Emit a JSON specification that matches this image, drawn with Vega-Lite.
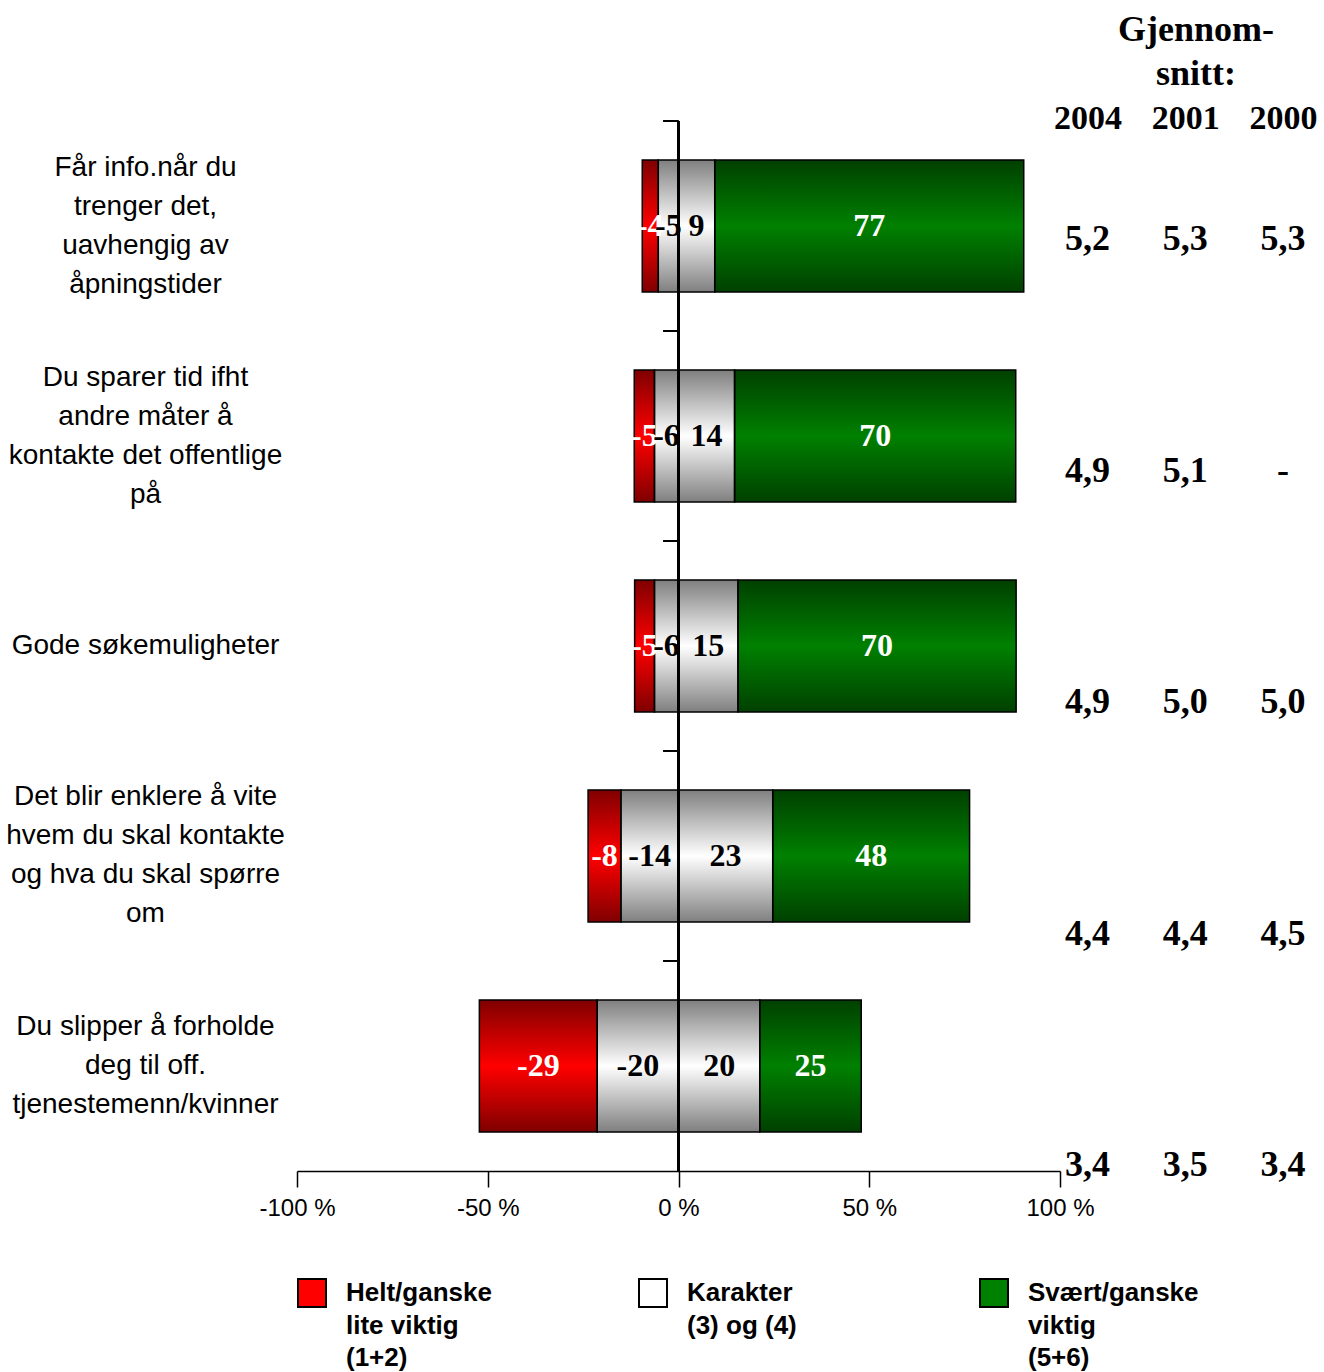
{
  "$schema": "https://vega.github.io/schema/vega-lite/v6.json",
  "background": "white",
  "padding": {"left": 5, "top": 12, "right": 0, "bottom": 0},
  "autosize": {"type": "pad"},
  "bounds": "flush",
  "spacing": 0,
  "datasets": {
    "bars": [
      {"item": "Får info.når du|trenger det,|uavhengig av|åpningstider", "cat": "Helt/ganske|lite viktig|(1+2)", "ord": 2, "pct": -4, "share": -4.2},
      {"item": "Får info.når du|trenger det,|uavhengig av|åpningstider", "cat": "Karakter|(3) og (4)", "ord": 1, "pct": -5, "share": -5.3},
      {"item": "Får info.når du|trenger det,|uavhengig av|åpningstider", "cat": "Karakter|(3) og (4)", "ord": 1, "pct": 9, "share": 9.5},
      {"item": "Får info.når du|trenger det,|uavhengig av|åpningstider", "cat": "Svært/ganske|viktig|(5+6)", "ord": 2, "pct": 77, "share": 81.0},
      {"item": "Du sparer tid ifht|andre måter å|kontakte det offentlige|på", "cat": "Helt/ganske|lite viktig|(1+2)", "ord": 2, "pct": -5, "share": -5.3},
      {"item": "Du sparer tid ifht|andre måter å|kontakte det offentlige|på", "cat": "Karakter|(3) og (4)", "ord": 1, "pct": -6, "share": -6.3},
      {"item": "Du sparer tid ifht|andre måter å|kontakte det offentlige|på", "cat": "Karakter|(3) og (4)", "ord": 1, "pct": 14, "share": 14.7},
      {"item": "Du sparer tid ifht|andre måter å|kontakte det offentlige|på", "cat": "Svært/ganske|viktig|(5+6)", "ord": 2, "pct": 70, "share": 73.7},
      {"item": "Gode søkemuligheter", "cat": "Helt/ganske|lite viktig|(1+2)", "ord": 2, "pct": -5, "share": -5.2},
      {"item": "Gode søkemuligheter", "cat": "Karakter|(3) og (4)", "ord": 1, "pct": -6, "share": -6.3},
      {"item": "Gode søkemuligheter", "cat": "Karakter|(3) og (4)", "ord": 1, "pct": 15, "share": 15.6},
      {"item": "Gode søkemuligheter", "cat": "Svært/ganske|viktig|(5+6)", "ord": 2, "pct": 70, "share": 72.9},
      {"item": "Det blir enklere å vite|hvem du skal kontakte|og hva du skal spørre|om", "cat": "Helt/ganske|lite viktig|(1+2)", "ord": 2, "pct": -8, "share": -8.6},
      {"item": "Det blir enklere å vite|hvem du skal kontakte|og hva du skal spørre|om", "cat": "Karakter|(3) og (4)", "ord": 1, "pct": -14, "share": -15.1},
      {"item": "Det blir enklere å vite|hvem du skal kontakte|og hva du skal spørre|om", "cat": "Karakter|(3) og (4)", "ord": 1, "pct": 23, "share": 24.7},
      {"item": "Det blir enklere å vite|hvem du skal kontakte|og hva du skal spørre|om", "cat": "Svært/ganske|viktig|(5+6)", "ord": 2, "pct": 48, "share": 51.6},
      {"item": "Du slipper å forholde|deg til off.|tjenestemenn/kvinner", "cat": "Helt/ganske|lite viktig|(1+2)", "ord": 2, "pct": -29, "share": -30.9},
      {"item": "Du slipper å forholde|deg til off.|tjenestemenn/kvinner", "cat": "Karakter|(3) og (4)", "ord": 1, "pct": -20, "share": -21.3},
      {"item": "Du slipper å forholde|deg til off.|tjenestemenn/kvinner", "cat": "Karakter|(3) og (4)", "ord": 1, "pct": 20, "share": 21.3},
      {"item": "Du slipper å forholde|deg til off.|tjenestemenn/kvinner", "cat": "Svært/ganske|viktig|(5+6)", "ord": 2, "pct": 25, "share": 26.6}
    ],
    "avg": [
      {"item": "Får info.når du|trenger det,|uavhengig av|åpningstider", "year": "2004", "avg": "5,2"},
      {"item": "Får info.når du|trenger det,|uavhengig av|åpningstider", "year": "2001", "avg": "5,3"},
      {"item": "Får info.når du|trenger det,|uavhengig av|åpningstider", "year": "2000", "avg": "5,3"},
      {"item": "Du sparer tid ifht|andre måter å|kontakte det offentlige|på", "year": "2004", "avg": "4,9"},
      {"item": "Du sparer tid ifht|andre måter å|kontakte det offentlige|på", "year": "2001", "avg": "5,1"},
      {"item": "Du sparer tid ifht|andre måter å|kontakte det offentlige|på", "year": "2000", "avg": "-"},
      {"item": "Gode søkemuligheter", "year": "2004", "avg": "4,9"},
      {"item": "Gode søkemuligheter", "year": "2001", "avg": "5,0"},
      {"item": "Gode søkemuligheter", "year": "2000", "avg": "5,0"},
      {"item": "Det blir enklere å vite|hvem du skal kontakte|og hva du skal spørre|om", "year": "2004", "avg": "4,4"},
      {"item": "Det blir enklere å vite|hvem du skal kontakte|og hva du skal spørre|om", "year": "2001", "avg": "4,4"},
      {"item": "Det blir enklere å vite|hvem du skal kontakte|og hva du skal spørre|om", "year": "2000", "avg": "4,5"},
      {"item": "Du slipper å forholde|deg til off.|tjenestemenn/kvinner", "year": "2004", "avg": "3,4"},
      {"item": "Du slipper å forholde|deg til off.|tjenestemenn/kvinner", "year": "2001", "avg": "3,5"},
      {"item": "Du slipper å forholde|deg til off.|tjenestemenn/kvinner", "year": "2000", "avg": "3,4"}
    ]
  },
  "hconcat": [
    {
      "width": 763,
      "height": 1050,
      "data": {"name": "bars"},
      "transform": [
        {"stack": "share", "groupby": ["item"], "sort": [{"field": "ord", "order": "ascending"}], "as": ["b0", "b1"]}
      ],
      "layer": [
        {
          "mark": {"type": "bar"},
          "encoding": {
            "y": {
              "field": "item", "type": "nominal",
              "sort": ["Får info.når du|trenger det,|uavhengig av|åpningstider", "Du sparer tid ifht|andre måter å|kontakte det offentlige|på", "Gode søkemuligheter", "Det blir enklere å vite|hvem du skal kontakte|og hva du skal spørre|om", "Du slipper å forholde|deg til off.|tjenestemenn/kvinner"],
              "scale": {"paddingInner": 0.371, "paddingOuter": 0.186},
              "axis": {"title": null, "domain": false, "ticks": false, "tickSize": 0, "labelAlign": "center", "labelBaseline": "middle", "labelPadding": 152,
                "labelOffset": {"expr": "-19.5 * (length(split(datum.value, '|')) - 1)"},
                "labelFont": "Liberation Sans", "labelFontSize": 28, "labelLineHeight": 39, "labelLimit": 400, "labelColor": "black",
                "labelExpr": "split(datum.label, '|')"}
            },
            "x": {
              "field": "b0", "type": "quantitative",
              "scale": {"domain": [-100, 100], "nice": false},
              "axis": {"values": [-100, -50, 0, 50, 100], "labelExpr": "datum.value + ' %'", "title": null, "grid": false, "domainColor": "black", "domainWidth": 1.5, "tickColor": "black", "tickWidth": 1.5, "tickSize": 16, "labelFont": "Liberation Sans", "labelFontSize": 24, "labelPadding": 9, "labelColor": "black", "labelFlush": false, "labelOverlap": false}
            },
            "x2": {"field": "b1"},
            "color": {
              "field": "cat", "type": "nominal",
              "scale": {"domain": ["Helt/ganske|lite viktig|(1+2)", "Karakter|(3) og (4)", "Svært/ganske|viktig|(5+6)"], "range": ["#ff0000", "#ffffff", "#008000"]},
              "legend": {
                "orient": "none", "legendX": 0, "legendY": 1157, "direction": "horizontal", "columns": 3, "title": null,
                "symbolType": "square", "symbolSize": 784, "symbolStrokeColor": "black", "symbolStrokeWidth": 2, "symbolOpacity": 1,
                "labelFont": "Liberation Sans", "labelFontWeight": "bold", "labelFontSize": 26,
                "labelLimit": 400, "labelOffset": 19, "labelBaseline": "middle", "labelColor": "black",
                "labelExpr": "length(split(datum.label, '|')) < 3 ? split(datum.label + '|\u200b', '|') : split(datum.label, '|')",
                "gridAlign": "all", "columnPadding": 118,
                "encode": {
                  "symbols": {"update": {"stroke": {"value": "black"}, "strokeWidth": {"value": 2}}},
                  "labels": {"update": {"lineHeight": {"value": 32.5}}}
                }
              }
            }
          }
        },
        {
          "mark": {"type": "bar", "stroke": "black", "strokeWidth": 1.5,
            "fill": {"gradient": "linear", "x1": 0, "y1": 0, "x2": 0, "y2": 1, "stops": [{"offset": 0, "color": "rgba(0,0,0,0.5)"}, {"offset": 0.5, "color": "rgba(0,0,0,0)"}, {"offset": 1, "color": "rgba(0,0,0,0.5)"}]}},
          "encoding": {
            "y": {"field": "item", "type": "nominal", "sort": ["Får info.når du|trenger det,|uavhengig av|åpningstider", "Du sparer tid ifht|andre måter å|kontakte det offentlige|på", "Gode søkemuligheter", "Det blir enklere å vite|hvem du skal kontakte|og hva du skal spørre|om", "Du slipper å forholde|deg til off.|tjenestemenn/kvinner"]},
            "x": {"field": "b0", "type": "quantitative"},
            "x2": {"field": "b1"}
          }
        },
        {
          "transform": [
            {"fold": ["b0", "b1"], "as": ["edge", "pos"]},
            {"aggregate": [{"op": "mean", "field": "pos", "as": "mid"}], "groupby": ["item", "pct", "ord"]}
          ],
          "mark": {"type": "text", "font": "Liberation Serif", "fontWeight": "bold", "fontSize": 32, "baseline": "middle", "align": "center"},
          "encoding": {
            "y": {"field": "item", "type": "nominal", "sort": ["Får info.når du|trenger det,|uavhengig av|åpningstider", "Du sparer tid ifht|andre måter å|kontakte det offentlige|på", "Gode søkemuligheter", "Det blir enklere å vite|hvem du skal kontakte|og hva du skal spørre|om", "Du slipper å forholde|deg til off.|tjenestemenn/kvinner"]},
            "x": {"field": "mid", "type": "quantitative"},
            "text": {"field": "pct", "type": "nominal"},
            "color": {"condition": {"test": "datum.ord == 2", "value": "white"}, "value": "black"}
          }
        },
        {
          "mark": {"type": "rule", "color": "black", "strokeWidth": 1.5},
          "encoding": {"x": {"datum": 0}}
        },
        {
          "mark": {"type": "rule", "color": "black", "strokeWidth": 1.5},
          "encoding": {
            "y": {"field": "item", "type": "nominal", "bandPosition": -0.2955, "sort": ["Får info.når du|trenger det,|uavhengig av|åpningstider", "Du sparer tid ifht|andre måter å|kontakte det offentlige|på", "Gode søkemuligheter", "Det blir enklere å vite|hvem du skal kontakte|og hva du skal spørre|om", "Du slipper å forholde|deg til off.|tjenestemenn/kvinner"]},
            "x": {"datum": -4},
            "x2": {"datum": 0}
          }
        }
      ]
    },
    {
      "width": 264,
      "height": 1050,
      "data": {"name": "avg"},
      "title": {"text": ["Gjennom-", "snitt:"], "font": "Liberation Serif", "fontWeight": "bold", "fontSize": 36, "lineHeight": 44, "anchor": "middle", "offset": 8, "color": "black", "dx": 4},
      "mark": {"type": "text", "font": "Liberation Serif", "fontWeight": "bold", "fontSize": 36, "baseline": "middle", "align": "center", "color": "black"},
      "encoding": {
        "x": {
          "field": "year", "type": "nominal", "sort": ["2004", "2001", "2000"],
          "scale": {"type": "point", "padding": 0.35, "align": 0.4},
          "axis": {"orient": "top", "title": null, "domain": false, "ticks": false, "tickSize": 0, "labelPadding": 3, "labelBaseline": "middle", "labelFont": "Liberation Serif", "labelFontWeight": "bold", "labelFontSize": 34, "labelAngle": 0, "labelColor": "black"}
        },
        "y": {
          "field": "item", "type": "nominal",
          "sort": ["Får info.når du|trenger det,|uavhengig av|åpningstider", "Du sparer tid ifht|andre måter å|kontakte det offentlige|på", "Gode søkemuligheter", "Det blir enklere å vite|hvem du skal kontakte|og hva du skal spørre|om", "Du slipper å forholde|deg til off.|tjenestemenn/kvinner"],
          "scale": {"type": "point", "padding": 0.268, "align": 0.952},
          "axis": null
        },
        "text": {"field": "avg", "type": "nominal"}
      }
    }
  ],
  "config": {
    "view": {"stroke": null},
    "axis": {"grid": false}
  }
}
